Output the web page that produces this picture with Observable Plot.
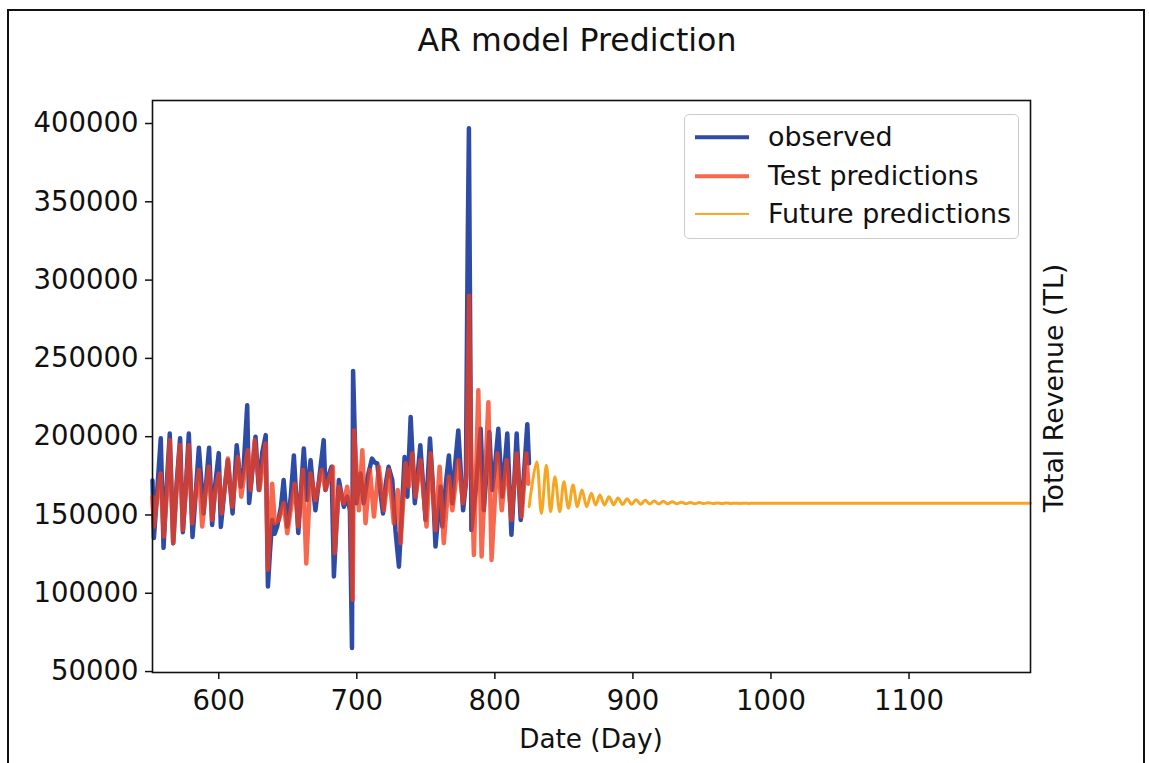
<!DOCTYPE html>
<html>
<head>
<meta charset="utf-8">
<script src="https://cdn.jsdelivr.net/npm/d3@7"></script>
<script src="https://cdn.jsdelivr.net/npm/@observablehq/plot@0.6"></script>
<style>
  body { margin: 0; background: #fff; font-family: "DejaVu Sans", sans-serif; color: #111; }
  #page { position: relative; width: 1149px; height: 763px; overflow: hidden; background: #fff; }
  #chart { position: absolute; left: 0; top: 0; }
  #border { position: absolute; left: 7px; top: 9px; width: 1134px; height: 790px; border: 2px solid #111; z-index: 3; pointer-events: none; }
  #title { position: absolute; left: 0; width: 1154px; top: 25px; text-align: center; font-size: 31.6px; line-height: 31px; z-index: 2; }
  #xlabel { position: absolute; left: 0; width: 1182px; top: 726px; text-align: center; font-size: 26.3px; line-height: 26px; z-index: 2; }
  #ylabel { position: absolute; left: 1054px; top: 388px; transform: translate(-50%, -50%) rotate(-90deg); white-space: nowrap; font-size: 26.8px; line-height: 26px; z-index: 2; }
  #legend { position: absolute; left: 684px; top: 114px; width: 333px; height: 123px; border: 1px solid #cccccc; border-radius: 5px; background: rgba(255,255,255,0.85); z-index: 2; }
  .item { position: absolute; left: 0; width: 333px; height: 30px; }
  .swatch { position: absolute; left: 10px; width: 54px; top: 50%; transform: translateY(-50%); }
  .label { position: absolute; left: 83px; top: 50%; transform: translateY(-50%); font-size: 26.9px; line-height: 26px; white-space: nowrap; }
</style>
</head>
<body>
<div id="page">
  <div id="chart"></div>
  <div id="border"></div>
  <div id="title">AR model Prediction</div>
  <div id="xlabel">Date (Day)</div>
  <div id="ylabel">Total Revenue (TL)</div>
  <div id="legend"></div>
</div>
<script>
// ---- Data ----
const observedDay = [552,553,555,558,560,562,564.5,567,569.5,572,574,576,578.3,581,583,585.6,589,593,595.2,597.5,600,601.5,604,606.6,610,613,616,618,620.6,622,624,626.6,629,631.5,634,635.6,637,638.7,640.5,642.3,645,647,649.6,652,654.4,657.6,659.5,661.6,664,666.5,668,670,673,676,677.3,679.5,681.7,683.4,685,687,688.5,690.6,693,695,696.5,697.3,699.8,702.7,705,708,711,713,714.8,717,719,721,723,725.7,728,730.5,732.5,734.6,736.6,739,742,744,746,749.8,753,755,757,760.7,762,764.5,766.7,769.2,771,773.5,777,779,780.3,781.2,783,786,789.7,792,796,798,800,802.5,805.4,807,809,812,814,815.8,818.7,821,823.5,824.7];
const observedValue = [172000,135300,160000,199000,129000,165000,202000,132000,170000,199000,139000,165000,202000,136000,160000,193000,151000,193000,143600,170000,189500,142400,165000,185000,151000,194600,168000,180000,220000,157600,175000,200000,166000,190000,201000,104300,125000,146800,138000,142600,155000,172300,142600,160000,188000,138500,165000,192500,159500,185000,170000,153000,175000,197800,166000,175000,180800,110700,140000,172300,165000,155300,161700,153000,65000,242000,157500,176500,157500,175000,186000,183500,183000,165000,151000,170000,180800,172300,140000,117000,150000,187000,161700,212600,157500,175000,194600,146800,198800,170000,129800,168000,142600,170000,188000,157500,180000,204000,153000,170000,320000,397000,140400,165000,205000,153000,203000,166000,180000,205000,161700,180000,202000,137300,170000,202000,146800,175000,208000,183000];

const testDay = [552,553,555,557.8,560.2,562.5,564.5,567,569.5,571.8,574,576,578.3,580.8,583,585.6,588,590.5,592.8,595.2,597.5,600,602,604.5,606.6,609.8,613.8,616.3,621,623,626,629.5,633.9,635.6,638.7,640.6,643.5,647,649.6,655,657.6,661,663.4,666.5,670,674.5,677.3,682.6,684,687,690.6,693,695.5,697,698,701.5,704,706.3,709.5,712.4,716,719.6,723.2,726.8,729.7,731.7,735.3,737.7,740.2,742.6,746.2,750.5,753.4,757,760,763,766.7,769.2,773.5,777,779.5,781.3,782.5,784.8,788,790.4,795.3,797.6,801.8,805,808.5,812,815.8,819.4,822.8,824.2];
const testValue = [161700,142600,158000,176500,136200,165000,197800,132000,168000,194600,140400,165000,194600,144700,162000,178700,142600,165000,180800,146800,165000,176500,151000,168000,186000,155300,187000,161700,191400,166000,197800,166000,195700,115000,170000,144700,146800,157500,138300,170000,142600,178700,119000,176500,159600,178700,166000,180800,125600,168000,157500,168000,153000,95900,204000,153000,191400,144700,178700,149000,180800,153000,178700,144700,166000,132000,183000,168000,189300,161700,185000,142600,189300,140400,180800,132000,174400,153000,185000,157500,175000,290000,200000,124500,229600,123500,222000,121300,189300,153000,185000,146800,189300,149000,189300,170000];

const futureDay = [824.8,830.3,833.7,837.3,840.4,843.5,847,850,853.3,856.6,859.8,863.1,866.5,869.9,873,876.1,879.4,882.7,886,889.2,892.5,895.8,899,902.3,905.6,908.9,912.1,915.4,918.7,922,925.2,928.5,931.8,935,938.3,941.6,944.9,948.1,951.4,954.7,958,961.2,964.5,967.8,971,974.3,977.6,980.9,984.1,987.4,990.7,994,997.2,1000.5,1003.8,1007,1188];
const futureValue = [155300,184000,151000,181800,152100,174400,152100,171200,154300,169100,155300,166000,155300,163800,156400,162700,156400,161700,156600,160900,156700,160300,156800,159800,156900,159400,157000,159000,157000,158700,157100,158400,157100,158200,157200,158000,157200,157900,157300,157800,157300,157700,157300,157600,157400,157550,157400,157500,157400,157500,157450,157500,157450,157480,157450,157460,157460];

const xTicks = [600, 700, 800, 900, 1000, 1100];
const yTicks = [50000, 100000, 150000, 200000, 250000, 300000, 350000, 400000];
const seriesNames = ["observed", "Test predictions", "Future predictions"];

// ---- Styles ----
const BLUE = "#2e4ca6";
const RED = "#f53d1e";
const RED_OPACITY = 0.78;
const ORANGE = "#f6a623";

const observed = observedDay.map((d, i) => ({day: d, value: observedValue[i]}));
const test = testDay.map((d, i) => ({day: d, value: testValue[i]}));
const future = futureDay.map((d, i) => ({day: d, value: futureValue[i]}));

const fmt = d3.format("d");
const axisMarks = Plot.axisX ? [
  Plot.axisX({ticks: xTicks, tickFormat: fmt, tickSize: 7, tickPadding: 11, strokeWidth: 1.5, label: null, fill: "#111", fontSize: 27.5}),
  Plot.axisY({ticks: yTicks, tickFormat: fmt, tickSize: 7, tickPadding: 7, strokeWidth: 1.5, label: null, fill: "#111", fontSize: 27.5})
] : [];

const chart = Plot.plot({
  width: 1149,
  height: 763,
  marginLeft: 152,
  marginRight: 119,
  marginTop: 100,
  marginBottom: 91,
  style: {fontFamily: "DejaVu Sans", fontSize: "27.5px", color: "#111", background: "transparent", overflow: "visible"},
  x: {domain: [552, 1188], ticks: xTicks, tickFormat: fmt, tickSize: 7, tickPadding: 11, label: null},
  y: {domain: [49400, 414700], ticks: yTicks, tickFormat: fmt, tickSize: 7, tickPadding: 7, label: null},
  marks: [
    Plot.line(observed, {x: "day", y: "value", stroke: BLUE, strokeWidth: 4.5, strokeLinejoin: "round", strokeLinecap: "round"}),
    Plot.line(test, {x: "day", y: "value", stroke: RED, strokeOpacity: RED_OPACITY, strokeWidth: 4.5, strokeLinejoin: "round", strokeLinecap: "round"}),
    Plot.line(future, {x: "day", y: "value", stroke: ORANGE, strokeWidth: 3, curve: "catmull-rom"}),
    ...axisMarks,
    Plot.frame({stroke: "#111", strokeWidth: 1.6})
  ]
});
document.getElementById("chart").appendChild(chart);

// ---- Legend ----
const legendStyles = [
  {color: BLUE, width: 3.5, opacity: 1, top: 7},
  {color: RED, width: 3.5, opacity: RED_OPACITY, top: 46},
  {color: ORANGE, width: 2.2, opacity: 1, top: 84}
];
const legend = document.getElementById("legend");
seriesNames.forEach((name, i) => {
  const s = legendStyles[i];
  const item = document.createElement("div");
  item.className = "item";
  item.style.top = s.top + "px";
  const sw = document.createElement("div");
  sw.className = "swatch";
  sw.style.height = s.width + "px";
  sw.style.background = s.color;
  sw.style.opacity = s.opacity;
  const lb = document.createElement("div");
  lb.className = "label";
  lb.textContent = name;
  item.appendChild(sw);
  item.appendChild(lb);
  legend.appendChild(item);
});
</script>
</body>
</html>
